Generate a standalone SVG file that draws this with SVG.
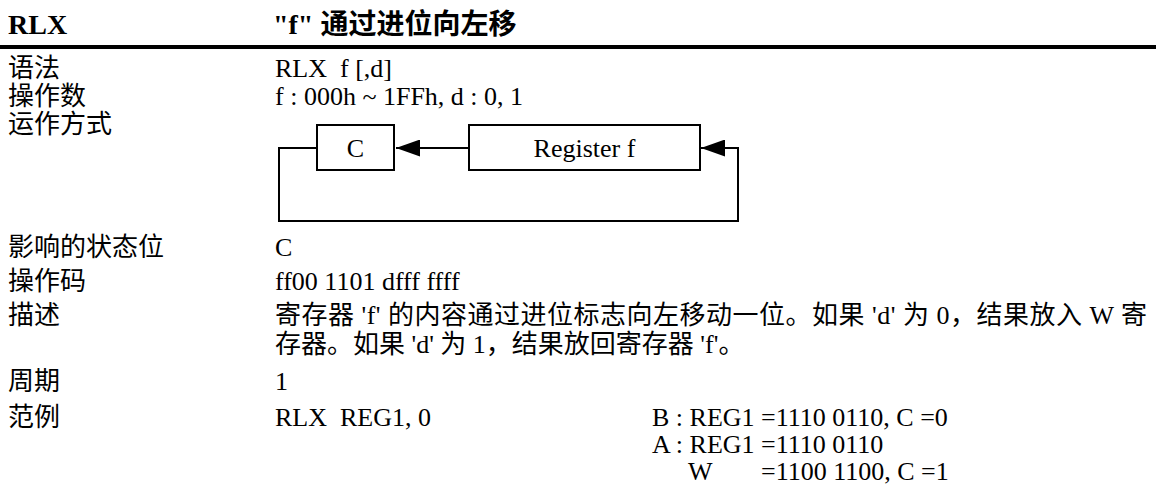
<svg xmlns="http://www.w3.org/2000/svg" width="1156" height="491" viewBox="0 0 1156 491">
<defs>
<style>
text{font-family:"Liberation Serif","Noto Sans CJK SC",serif;font-size:26px;fill:#000}
.h{font-weight:bold;font-size:28px}
.box{fill:#fff;stroke:#000;stroke-width:2}
.ln{fill:none;stroke:#000;stroke-width:2}
</style>
<marker id="ah" viewBox="0 0 24 17" refX="24" refY="8.5" markerWidth="24" markerHeight="17" markerUnits="userSpaceOnUse" orient="auto">
<path d="M0,0 L24,8.5 L0,17 Z" fill="#000"/>
</marker>
</defs>
<rect width="1156" height="491" fill="#fff"/>
<g id="header">
<text class="h" x="8" y="34">RLX</text>
<text class="h" x="273" y="34">"f" 通过进位向左移</text>
<rect x="0" y="45" width="1156" height="4" fill="#000"/>
</g>
<g id="labels">
<text x="8" y="77">语法</text>
<text x="8" y="105">操作数</text>
<text x="8" y="133">运作方式</text>
<text x="8" y="256">影响的状态位</text>
<text x="8" y="290">操作码</text>
<text x="8" y="324">描述</text>
<text x="8" y="390">周期</text>
<text x="8" y="426">范例</text>
</g>
<g id="values">
<text x="275" y="77" xml:space="preserve">RLX  f [,d]</text>
<text x="275" y="105">f : 000h ~ 1FFh, d : 0, 1</text>
<text x="275" y="256">C</text>
<text x="275" y="290">ff00 1101 dfff ffff</text>
<text x="275" y="324" textLength="872" lengthAdjust="spacing">寄存器 'f' 的内容通过进位标志向左移动一位。如果 'd' 为 0，结果放入 W 寄</text>
<text x="275" y="353">存器。如果 'd' 为 1，结果放回寄存器 'f'。</text>
<text x="275" y="390">1</text>
<text x="275" y="426" xml:space="preserve">RLX  REG1, 0</text>
<text x="652" y="426">B : REG1 =1110 0110, C =0</text>
<text x="652" y="453">A : REG1 =1110 0110</text>
<text x="688" y="480">W</text>
<text x="761" y="480">=1100 1100, C =1</text>
</g>
<g id="connectors">
<path class="ln" d="M469,148 H396" marker-end="url(#ah)"/>
<path class="ln" d="M317,148 H279 V221 H738 V148 H701" marker-end="url(#ah)"/>
</g>
<g id="node-c">
<rect class="box" x="317" y="125" width="77" height="45"/>
<text x="355.5" y="157" text-anchor="middle">C</text>
</g>
<g id="node-register">
<rect class="box" x="469" y="125" width="231" height="45"/>
<text x="584.5" y="157" text-anchor="middle">Register f</text>
</g>
</svg>
